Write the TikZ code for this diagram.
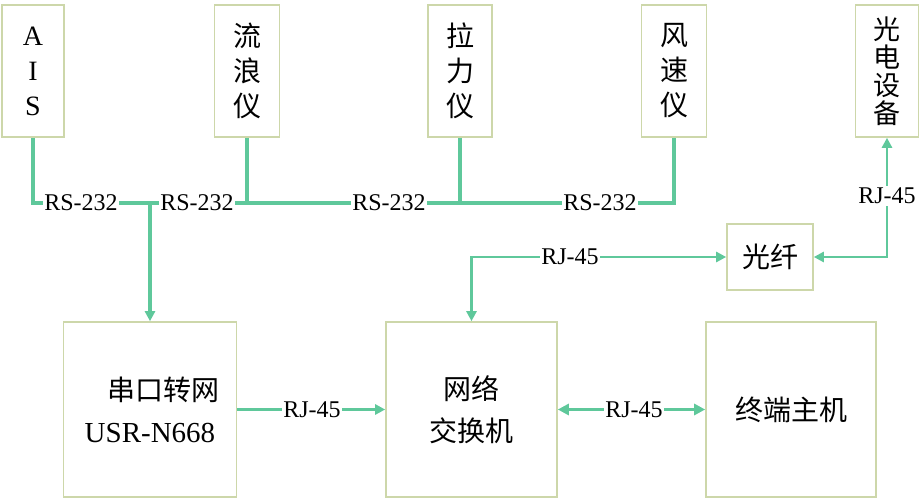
\documentclass[tikz,border=0pt]{standalone}
\usepackage{fontspec}
\setmainfont{Liberation Serif}
\newfontfamily\cjk{Noto Sans CJK SC}
\usetikzlibrary{arrows.meta}
\definecolor{boxcol}{RGB}{205,215,170}
\definecolor{linecol}{RGB}{95,200,155}
\tikzset{
  box/.style={draw=boxcol,line width=1.6pt,align=center,inner sep=0pt},
  bus/.style={draw=linecol,line width=3.6pt},
  link/.style={draw=linecol,line width=2.6pt},
  tip/.style={-{Triangle[length=10pt,width=10pt]}},
  lab/.style={fill=white,inner sep=1.5pt,font=\fontsize{24}{26}\selectfont}
}
\begin{document}
\begin{tikzpicture}[x=1pt,y=-1pt]
\useasboundingbox (0,0) rectangle (922,501);
\node[box,minimum width=62,minimum height=132,font=\fontsize{28}{35}\selectfont] (ais) at (33,71) {A\\I\\S};
\node[box,minimum width=65,minimum height=132,font=\cjk\fontsize{28}{35}\selectfont] (liulang) at (247,71) {流\\浪\\仪};
\node[box,minimum width=64,minimum height=132,font=\cjk\fontsize{28}{35}\selectfont] (lali) at (460,71) {拉\\力\\仪};
\node[box,minimum width=65,minimum height=132,font=\cjk\fontsize{28}{35}\selectfont] (fengsu) at (674,71) {风\\速\\仪};
\node[box,minimum width=63,minimum height=132,font=\cjk\fontsize{27}{28}\selectfont] (guangdian) at (887,71) {光\\电\\设\\备};
\node[box,minimum width=86,minimum height=66,font=\cjk\fontsize{28}{30}\selectfont] (fiber) at (770,257) {光纤};
\node[box,minimum width=173,minimum height=175,font=\fontsize{29}{42}\selectfont] (serial) at (150,409.5) {\hspace*{28pt}{\cjk\fontsize{28}{42}\selectfont 串口转网}\\USR-N668};
\node[box,minimum width=171,minimum height=175,font=\cjk\fontsize{28}{42}\selectfont] (switch) at (471.5,409.5) {网络\\交换机};
\node[box,minimum width=170,minimum height=175,font=\cjk\fontsize{28}{30}\selectfont] (host) at (791,409.5) {终端主机};
\coordinate (bus) at (150,203);
\draw[bus] (ais.south) |- (bus) -| (fengsu.south);
\draw[bus] (liulang.south) -- (liulang.south |- bus);
\draw[bus] (lali.south) -- (lali.south |- bus);
\draw[bus,tip] (bus) -- (serial.north);
\draw[link,{Triangle[length=10pt,width=10pt]}-{Triangle[length=10pt,width=10pt]}] (switch.north) |- (fiber.west);
\draw[link,{Triangle[length=10pt,width=10pt]}-{Triangle[length=10pt,width=10pt]}] (guangdian.south) |- (fiber.east);
\draw[link,tip] (serial.east) -- (switch.west);
\draw[bus,{Triangle[length=11pt,width=11pt]}-{Triangle[length=11pt,width=11pt]}] (switch.east) -- (host.west);
\node[lab] (l1) at (81,203) {RS-232};
\node[lab] (l2) at (197,203) {RS-232};
\node[lab] (l3) at (389,203) {RS-232};
\node[lab] (l4) at (600,203) {RS-232};
\node[lab] (l5) at (570,257) {RJ-45};
\node[lab] (l6) at (887,196) {RJ-45};
\node[lab] (l7) at (312,410) {RJ-45};
\node[lab] (l8) at (634,410) {RJ-45};
\end{tikzpicture}
\end{document}
